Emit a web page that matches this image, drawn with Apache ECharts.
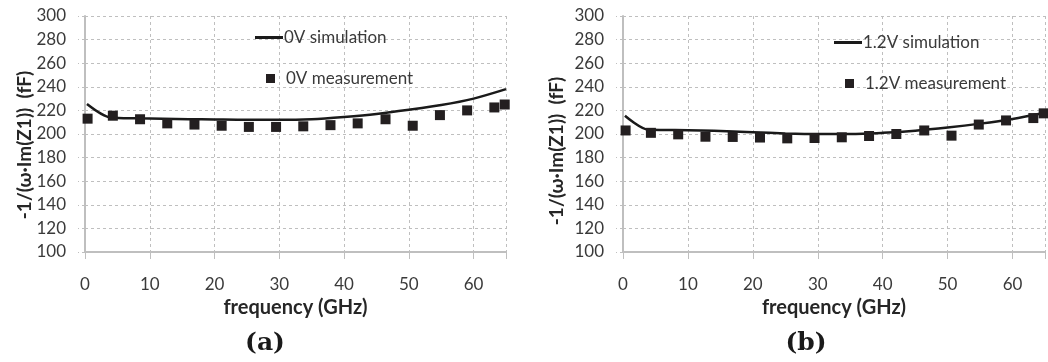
<!DOCTYPE html>
<html>
<head>
<meta charset="utf-8">
<script src="https://cdn.jsdelivr.net/npm/echarts@6/dist/echarts.min.js"></script>
<style>
html,body{margin:0;padding:0;background:#fff;}
#chart{width:1048px;height:362px;}
</style>
</head>
<body>
<div id="chart"></div>
<script>
// ---- data ----
const xTicks = [0, 10, 20, 30, 40, 50, 60];
const yTicks = [100, 120, 140, 160, 180, 200, 220, 240, 260, 280, 300];

const measFreq = [0.4, 4.3, 8.5, 12.7, 16.9, 21.1, 25.3, 29.5, 33.7, 37.9, 42.1, 46.4, 50.6, 54.8, 59.0, 63.2, 64.8];
const meas0V   = [213, 215.5, 212.5, 209, 208, 207, 206, 206, 206.5, 207.5, 209, 212.5, 207, 216, 220, 222.5, 225];
const meas12V  = [203, 201, 199.7, 197.7, 197.5, 197, 196.3, 196.6, 197.2, 198.3, 200, 203, 198.6, 208, 211.5, 213.5, 217.5];

const simFreq = [0.3, 4, 8, 12, 16, 20, 25, 30, 35, 40, 45, 50, 55, 60, 65];
const sim0V   = [225.5, 214, 213.3, 213, 212.6, 212.3, 212, 212, 212.6, 214.5, 217, 220.5, 224.5, 230, 238];
const sim12V  = [215.5, 203.5, 203.3, 203, 202.3, 201.5, 200.5, 200, 200, 201, 202.8, 205.5, 208.8, 212.8, 218];

const names = {
  sim0: '0V simulation', meas0: '0V measurement',
  sim12: '1.2V simulation', meas12: '1.2V measurement'
};
const yName = '-1/(\u03C9\u00B7Im(Z1))  (fF)';
const xName = 'frequency (GHz)';
const captions = ['(a)', '(b)'];

// ---- build ----
const FONT = 'Lato';
const pair = (xs, ys) => xs.map((x, i) => [x, ys[i]]);
const gridColor = '#bfbfbf';
const labelColor = '#3a3a3a';

function xAxis(gi) {
  return {
    gridIndex: gi, type: 'value', min: 0, max: 65, interval: 10,
    name: xName, nameLocation: 'middle', nameGap: 43,
    nameTextStyle: {fontFamily: FONT, fontWeight: 'bold', fontSize: 20, color: '#262626'},
    axisLine: {show: true, lineStyle: {color: gridColor, width: 2}},
    axisTick: {show: true, length: 7, lineStyle: {color: gridColor}},
    axisLabel: {margin: 24, fontFamily: FONT, fontSize: 17, color: labelColor,
      formatter: v => (xTicks.indexOf(v) >= 0 ? String(v) : '')},
    splitLine: {show: true, lineStyle: {color: gridColor, type: [3, 3], width: 1}}
  };
}
function yAxis(gi) {
  return {
    gridIndex: gi, type: 'value', min: 100, max: 300, interval: 20,
    axisLine: {show: true, lineStyle: {color: gridColor, width: 2}},
    axisTick: {show: true, length: 7, lineStyle: {color: gridColor, type: [3, 3]}},
    axisLabel: {margin: 19, fontFamily: FONT, fontSize: 17, color: labelColor,
      formatter: v => (yTicks.indexOf(v) >= 0 ? String(v) : '')},
    splitLine: {show: true, lineStyle: {color: gridColor, type: [3, 3], width: 1}}
  };
}
function lineSeries(name, gi, xs, ys) {
  return {name, type: 'line', xAxisIndex: gi, yAxisIndex: gi, data: pair(xs, ys),
    smooth: 0.3, symbol: 'none', lineStyle: {color: '#1a1a1a', width: 2.5},
    itemStyle: {color: '#1a1a1a'}, z: 3};
}
function scatterSeries(name, gi, xs, ys) {
  return {name, type: 'scatter', xAxisIndex: gi, yAxisIndex: gi, data: pair(xs, ys),
    symbol: 'rect', symbolSize: 10, itemStyle: {color: '#231f20', opacity: 1}, z: 4};
}
function legend(name, left, top, isLine) {
  return {
    data: [name], left, top, selectedMode: false,
    icon: 'rect',
    itemWidth: isLine ? 28 : 9, itemHeight: isLine ? 3 : 9,
    itemStyle: {opacity: 1},
    textStyle: {fontFamily: FONT, fontSize: 17, color: labelColor, padding: isLine ? [0,0,0,-4] : [0,0,0,6]}
  };
}

const chart = echarts.init(document.getElementById('chart'), null, {renderer: 'canvas'});
chart.setOption({
  backgroundColor: '#ffffff',
  animation: false,
  grid: [
    {left: 85, top: 16, width: 421, height: 236},
    {left: 623, top: 16, width: 422, height: 236}
  ],
  xAxis: [xAxis(0), xAxis(1)],
  yAxis: [yAxis(0), yAxis(1)],
  legend: [
    legend(names.sim0, 250, 24, true),
    legend(names.meas0, 261, 65, false),
    legend(names.sim12, 829, 29, true),
    legend(names.meas12, 840, 70, false)
  ],
  series: [
    lineSeries(names.sim0, 0, simFreq, sim0V),
    scatterSeries(names.meas0, 0, measFreq, meas0V),
    lineSeries(names.sim12, 1, simFreq, sim12V),
    scatterSeries(names.meas12, 1, measFreq, meas12V)
  ],
  graphic: [
    {type: 'text', x: 25, y: 145, rotation: Math.PI / 2,
      style: {text: yName, fontFamily: FONT, fontWeight: 'bold', fontSize: 19, fill: '#262626',
        textAlign: 'center', textVerticalAlign: 'middle'}},
    {type: 'text', x: 557, y: 151, rotation: Math.PI / 2,
      style: {text: yName, fontFamily: FONT, fontWeight: 'bold', fontSize: 19, fill: '#262626',
        textAlign: 'center', textVerticalAlign: 'middle'}},
    {type: 'text', x: 265, y: 343,
      style: {text: captions[0], fontFamily: 'DejaVu Serif', fontWeight: 'bold', fontSize: 25, fill: '#1a1a1a',
        textAlign: 'center', textVerticalAlign: 'middle'}},
    {type: 'text', x: 806, y: 343,
      style: {text: captions[1], fontFamily: 'DejaVu Serif', fontWeight: 'bold', fontSize: 25, fill: '#1a1a1a',
        textAlign: 'center', textVerticalAlign: 'middle'}}
  ]
});
</script>
</body>
</html>
